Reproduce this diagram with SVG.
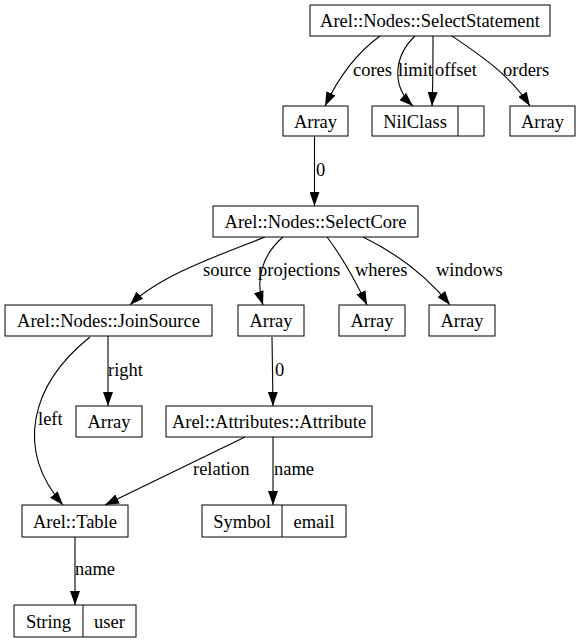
<svg xmlns="http://www.w3.org/2000/svg" width="580" height="643" viewBox="0 0 580 643">
<style>
.n{fill:#fff;stroke:#000;stroke-width:1}
.t{font-family:"Liberation Serif","Times New Roman",serif;font-size:18.5px;fill:#000;text-anchor:middle}
.l{font-family:"Liberation Serif","Times New Roman",serif;font-size:18.5px;fill:#000}
.e{fill:none;stroke:#000;stroke-width:1.1;marker-end:url(#ah)}
</style>
<defs>
<marker id="ah" viewBox="0 0 14 10" refX="14" refY="5" markerWidth="14" markerHeight="10" markerUnits="userSpaceOnUse" orient="auto">
<path d="M0,0 L14,5 L0,10 z" fill="#000"/>
</marker>
</defs>
<rect width="580" height="643" fill="#fff"/>
<g id="edges">
<path class="e" d="M380,36 C358,52 340,74 325,106"/>
<path class="e" d="M415,36 C395,55 390,85 413,106"/>
<path class="e" d="M433,36 C433,60 433,85 432,106"/>
<path class="e" d="M452,36 C480,55 510,75 530,106"/>
<path class="e" d="M314.5,136 L314.5,206"/>
<path class="e" d="M265,237 C220,255 160,275 130,305"/>
<path class="e" d="M283,237 C262,255 255,280 263,305"/>
<path class="e" d="M327,237 C343,258 355,280 367,305"/>
<path class="e" d="M363,237 C400,255 430,280 450,305"/>
<path class="e" d="M108,336 L108,406"/>
<path class="e" d="M90,337 C30,385 15,450 63,505"/>
<path class="e" d="M272,337 L273,406"/>
<path class="e" d="M245,437 L105,505"/>
<path class="e" d="M273,437 L273,505"/>
<path class="e" d="M75,537 L75,605"/>
<text class="l" x="353" y="76">cores</text>
<text class="l" x="398" y="76">limit</text>
<text class="l" x="435" y="76">offset</text>
<text class="l" x="503" y="76">orders</text>
<text class="l" x="316" y="176">0</text>
<text class="l" x="203" y="276">source</text>
<text class="l" x="258" y="276">projections</text>
<text class="l" x="355" y="276">wheres</text>
<text class="l" x="436" y="276">windows</text>
<text class="l" x="108" y="376">right</text>
<text class="l" x="38" y="425">left</text>
<text class="l" x="275" y="376">0</text>
<text class="l" x="193" y="475">relation</text>
<text class="l" x="274" y="475">name</text>
<text class="l" x="75" y="575">name</text>
</g>
<g id="selectStatement"><rect class="n" x="310" y="5" width="240" height="31"/><text class="t" x="430" y="27">Arel::Nodes::SelectStatement</text></g>
<g id="arrayCores"><rect class="n" x="283" y="106" width="65" height="30"/><text class="t" x="315.5" y="127.5">Array</text></g>
<g id="nilClass"><rect class="n" x="372" y="106" width="112" height="30"/><line x1="458" y1="106" x2="458" y2="136" stroke="#000"/><text class="t" x="415" y="127.5">NilClass</text></g>
<g id="arrayOrders"><rect class="n" x="510" y="106" width="65" height="30"/><text class="t" x="542.5" y="127.5">Array</text></g>
<g id="selectCore"><rect class="n" x="213" y="206" width="205" height="31"/><text class="t" x="315.5" y="228">Arel::Nodes::SelectCore</text></g>
<g id="joinSource"><rect class="n" x="5" y="305" width="207" height="31"/><text class="t" x="108.5" y="327">Arel::Nodes::JoinSource</text></g>
<g id="arrayProjections"><rect class="n" x="238" y="305" width="66" height="31"/><text class="t" x="271" y="327">Array</text></g>
<g id="arrayWheres"><rect class="n" x="339" y="305" width="66" height="31"/><text class="t" x="372" y="327">Array</text></g>
<g id="arrayWindows"><rect class="n" x="429" y="305" width="66" height="31"/><text class="t" x="462" y="327">Array</text></g>
<g id="arrayRight"><rect class="n" x="76" y="406" width="66" height="31"/><text class="t" x="109" y="428">Array</text></g>
<g id="attribute"><rect class="n" x="166" y="406" width="206" height="31"/><text class="t" x="269" y="428">Arel::Attributes::Attribute</text></g>
<g id="table"><rect class="n" x="22" y="505" width="106" height="32"/><text class="t" x="75" y="527.5">Arel::Table</text></g>
<g id="symbol"><rect class="n" x="202" y="505" width="144" height="32"/><line x1="282" y1="505" x2="282" y2="537" stroke="#000"/><text class="t" x="242" y="527.5">Symbol</text><text class="t" x="314" y="527.5">email</text></g>
<g id="string"><rect class="n" x="14" y="605" width="122" height="32"/><line x1="83" y1="605" x2="83" y2="637" stroke="#000"/><text class="t" x="48.5" y="627.5">String</text><text class="t" x="109.5" y="627.5">user</text></g>
</svg>
